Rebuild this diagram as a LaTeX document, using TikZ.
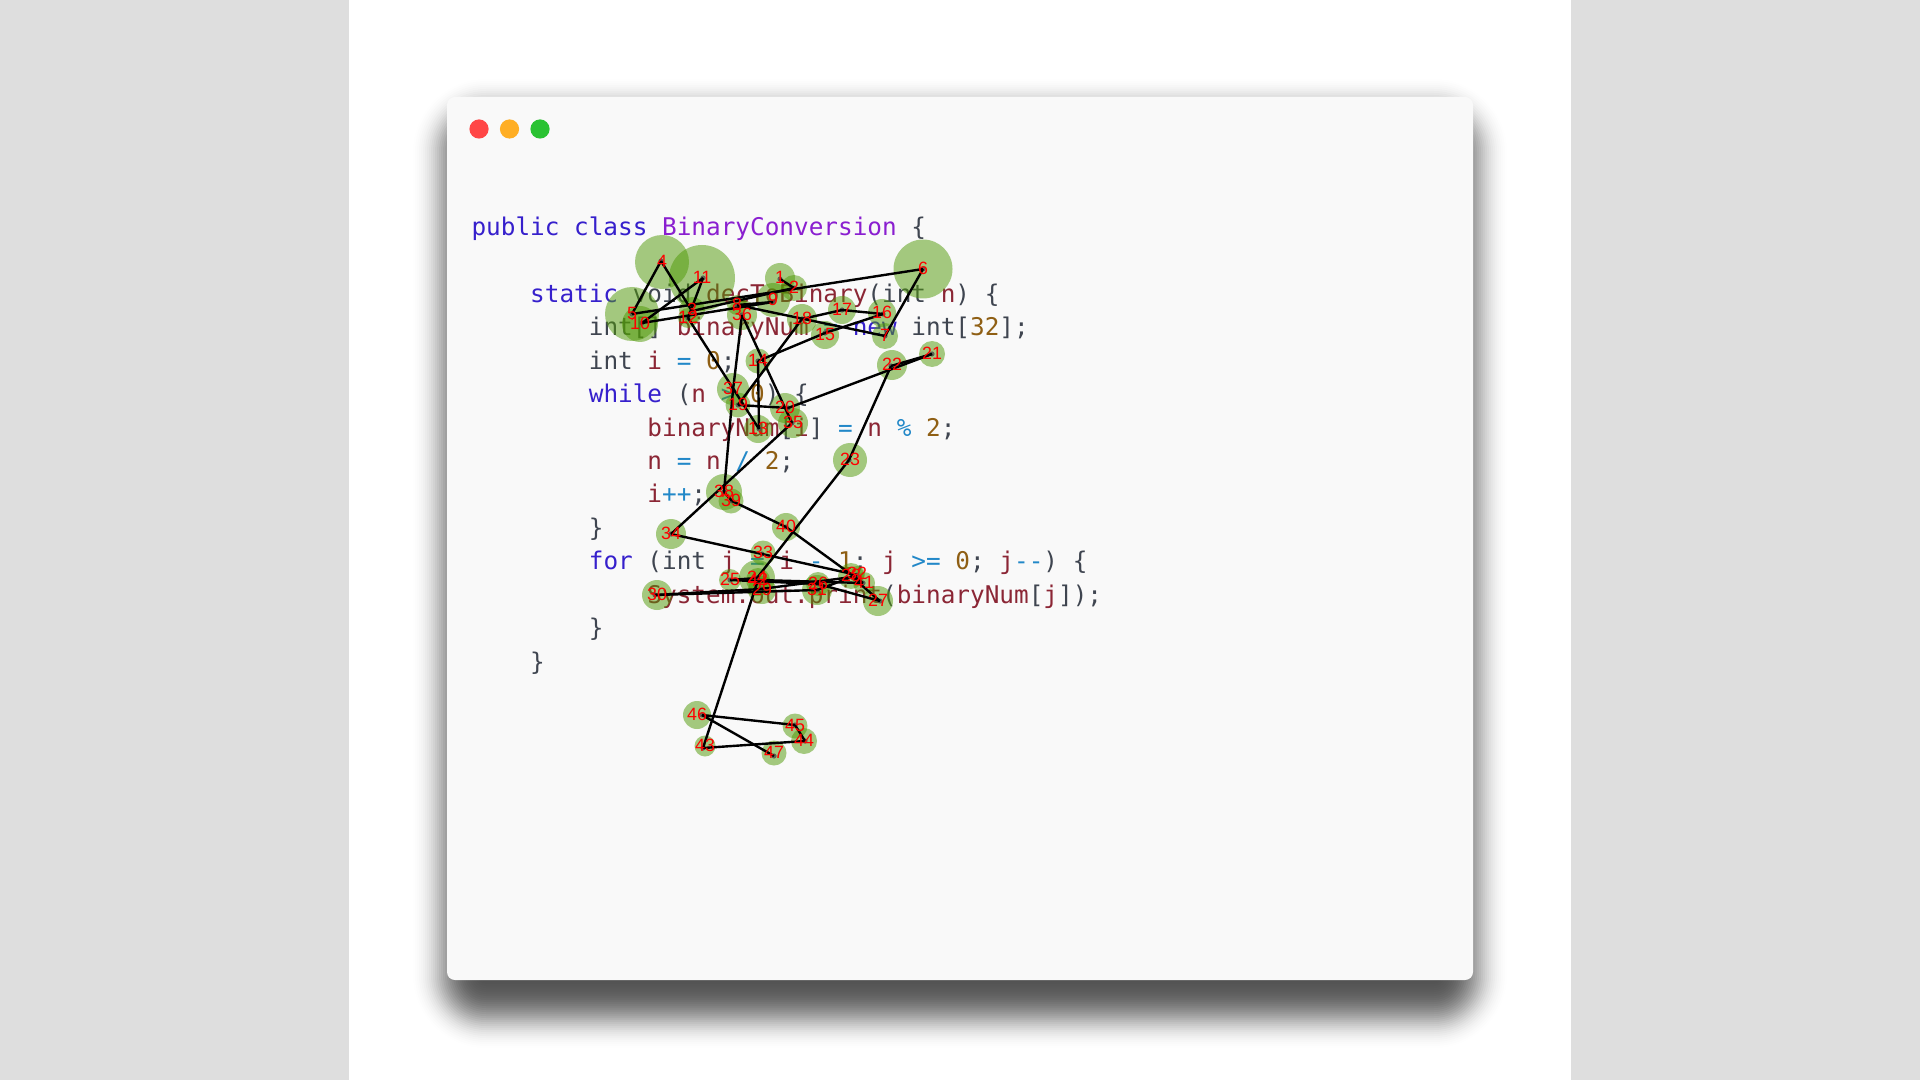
\documentclass[tikz,border=0pt]{standalone}
\usepackage{fontspec}
\setmonofont{DejaVu Sans Mono}
\newfontfamily\labelfont{Liberation Sans}
\definecolor{panelgray}{HTML}{DEDEDE}
\definecolor{winbg}{HTML}{F9F9F9}
\definecolor{kwblue}{HTML}{3620CC}
\definecolor{clspurple}{HTML}{8A1FD0}
\definecolor{idred}{HTML}{8B2635}
\definecolor{basegray}{HTML}{3F4550}
\definecolor{numbrown}{HTML}{8F5F14}
\definecolor{opblue}{HTML}{2288C8}
\definecolor{fixgreen}{HTML}{4F9905}
\newcommand{\kw}[1]{\textcolor{kwblue}{#1}}
\newcommand{\cls}[1]{\textcolor{clspurple}{#1}}
\newcommand{\idn}[1]{\textcolor{idred}{#1}}
\newcommand{\num}[1]{\textcolor{numbrown}{#1}}
\newcommand{\op}[1]{\textcolor{opblue}{#1}}
\tikzset{
  codeline/.style={anchor=base west,inner sep=0pt,outer sep=0pt,text=basegray,font=\ttfamily\fontsize{12.18pt}{14pt}\selectfont},
  fixzone/.style={circle,draw=none,fill=fixgreen,fill opacity=0.5,inner sep=0pt,outer sep=0pt},
  fixdot/.style={circle,draw=none,fill=black!70,fill opacity=0.8,inner sep=0pt,outer sep=0pt,minimum size=2.6pt},
  fixlabel/.style={inner sep=0pt,outer sep=0pt,text=red,font=\labelfont\fontsize{8.9pt}{9pt}\selectfont},
  saccade/.style={draw=black,line width=1.2pt},
  winlight/.style={circle,draw=none,inner sep=0pt,outer sep=0pt,minimum size=9.6pt},
}
\begin{document}
\begin{tikzpicture}[x=0.5pt,y=-0.5pt]
\useasboundingbox (0,0) rectangle (1920,1080);
\fill[white] (0,0) rectangle (1920,1080);
\fill[panelgray] (0,0) rectangle (349,1080);
\fill[panelgray] (1571,0) rectangle (1920,1080);
% blurred window shadow: nested rectangles whose opacity follows a Gaussian
\foreach \d in {36,34,...,-36}{
  \pgfmathsetmacro{\a}{1.05*(2/17)*0.3989*exp(-0.5*(\d/17)*(\d/17))}
  \pgfmathsetmacro{\rad}{max(1,0.5*(\d+37))}
  \fill[black,fill opacity=\a,rounded corners=\rad pt]
    (449-\d,115-\d) rectangle (1471+\d,1012+\d);
}
\fill[winbg,rounded corners=4pt] (447,97) rectangle (1473,980);
\node[winlight,fill={rgb,255:red,255;green,70;blue,70}] (lightred) at (479,129) {};
\node[winlight,fill={rgb,255:red,255;green,174;blue,36}] (lightamber) at (509.5,129) {};
\node[winlight,fill={rgb,255:red,42;green,194;blue,50}] (lightgreen) at (540,129) {};
% code
\def\cx{471.5}
\node[codeline] (l1) at (\cx,235.5) {\kw{public}~\kw{class}~\cls{BinaryConversion}~\{};
\node[codeline] (l3) at (\cx,302.4) {~~~~\kw{static}~void~\idn{decToBinary}(int~\idn{n})~\{};
\node[codeline] (l4) at (\cx,335.8) {~~~~~~~~int[]~\idn{binaryNum}~\op{=}~\kw{new}~int[\num{32}];};
\node[codeline] (l5) at (\cx,369.2) {~~~~~~~~int~\idn{i}~\op{=}~\num{0};};
\node[codeline] (l6) at (\cx,402.6) {~~~~~~~~\kw{while}~(\idn{n}~\op{>}~\num{0})~\{};
\node[codeline] (l7) at (\cx,436.1) {~~~~~~~~~~~~\idn{binaryNum}[\idn{i}]~\op{=}~\idn{n}~\op{\%}~\num{2};};
\node[codeline] (l8) at (\cx,469.5) {~~~~~~~~~~~~\idn{n}~\op{=}~\idn{n}~\op{/}~\num{2};};
\node[codeline] (l9) at (\cx,502.9) {~~~~~~~~~~~~\idn{i}\op{++};};
\node[codeline] (l10) at (\cx,536.3) {~~~~~~~~\}};
\node[codeline] (l11) at (\cx,569.8) {~~~~~~~~\kw{for}~(int~\idn{j}~\op{=}~\idn{i}~\op{{-}}~\num{1};~\idn{j}~\op{>=}~\num{0};~\idn{j}\op{{-}{-}})~\{};
\node[codeline] (l12) at (\cx,603.2) {~~~~~~~~~~~~\idn{System.out.print}(\idn{binaryNum}[\idn{j}]);};
\node[codeline] (l13) at (\cx,636.6) {~~~~~~~~\}};
\node[codeline] (l14) at (\cx,670.0) {~~~~\}};
% fixation data: id / dot x / dot y / zone x / zone y / zone radius
\def\fixdata{1/780/279/780/278/15,2/794/288/794/288/13,3/692/311/692/310/13,4/661/261/662/262/27,5/632/314/632/314/27,6/923/269/923/269/29.5,7/885/336/885/336/13,8/737/305/737/305/10,9/773/302/773/300/17,10/642/323/640/324/18,11/703/278/702/278/33,12/688/318/688/318/10,13/759/429/758/429/14,14/758/361/758/361/12.5,15/825/333/825/335/14,16/883/314/882/313/14,17/842/310/842/310/14,18/802/319/802/319/15,19/738/405/738/405/12.5,20/788/408/785/408/15,21/932/354/932/354/13,22/891/366/892/365/15,23/849/460/850/460/17,24/757/578/757/578/18,25/730/580/730/580/11,26/818/584/818/584/12,27/880/601/878/601/15,28/852/577/851/576/13,29/761/589/762/590/14,30/655/595/657/595/15,31/817/590/817/590/15,32/857/575/857/574/8,33/762/554/763/553/12.5,34/671/534/671/534/15,35/792/423/793/423/15,36/742/315/742/315/15,37/733/390/733/389/16,38/724/492/724/492/18,39/732/501/731/501/12.5,40/786/527/786/527/14,41/863/583/864/583/11,42/758/580/758/580/12,43/703/748/705/746/10.5,44/805/741/804/741/13,45/795/725/795/726/12.5,46/702/715/697/715/14,47/774/756/774/753/12.5}
\foreach \n/\x/\y/\cxx/\cyy/\r in \fixdata{
  \node[fixzone,minimum size=\r pt] (z\n) at (\cxx,\cyy) {};
}
\foreach \n/\x/\y/\cxx/\cyy/\r in \fixdata{
  \node[fixdot] (f\n) at (\x,\y) {};
}
\foreach \a/\b in {1/2,2/3,3/4,4/5,5/6,6/7,7/8,8/9,9/10,10/11,11/12,12/13,13/14,14/15,15/16,16/17,17/18,18/19,19/20,20/21,21/22,22/23,23/24,24/25,25/26,26/27,27/28,28/29,29/30,30/31,31/32,32/33,33/34,34/35,35/36,36/37,37/38,38/39,39/40,40/41,41/42,42/43,43/44,44/45,45/46,46/47}{
  \draw[saccade] (f\a.center) -- (f\b.center);
}
\foreach \n/\x/\y/\cxx/\cyy/\r in \fixdata{
  \node[fixlabel] (t\n) at (\cxx,\cyy-1) {\n};
}
\end{tikzpicture}
\end{document}
